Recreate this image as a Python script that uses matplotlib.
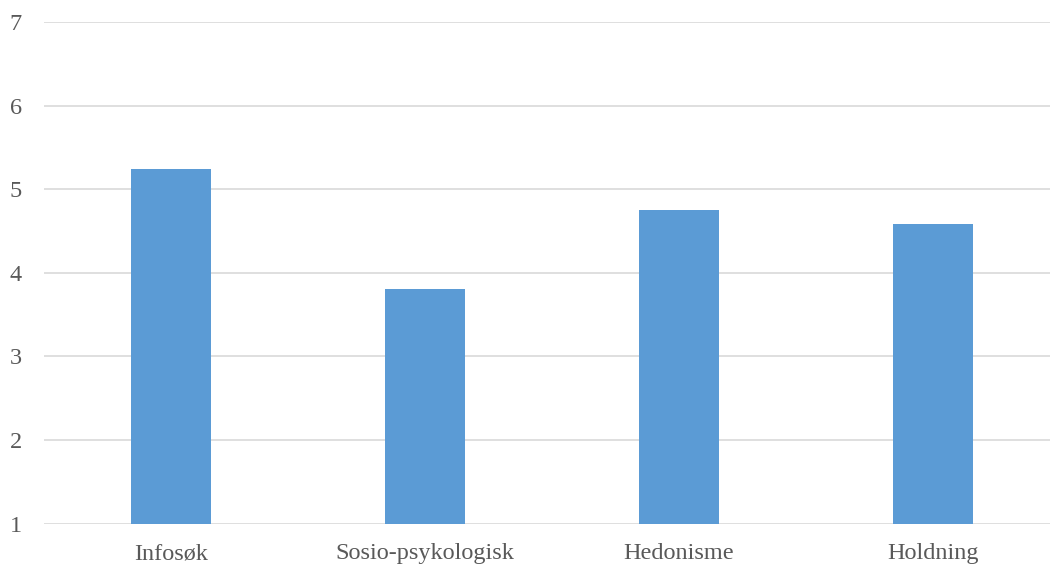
import matplotlib.pyplot as plt

categories = ["Infosøk", "Sosio-psykologisk", "Hedonisme", "Holdning"]
scores = [5.24, 3.81, 4.75, 4.59]
y_ticks = [1, 2, 3, 4, 5, 6, 7]

plt.rcParams["font.family"] = ["Liberation Serif", "DejaVu Serif"]

fig = plt.figure(figsize=(10.5, 5.66), dpi=100)
ax = fig.add_axes([0.0419, 0.0747, 0.9676, 0.8864])

x = range(len(categories))
ax.bar(x, [s - 1 for s in scores], bottom=1, width=0.315, color="#5B9BD5", zorder=3)

ax.set_xlim(-0.5, len(categories) - 0.5)
ax.set_ylim(1, 7)
ax.set_yticks(y_ticks)
ax.set_xticks(list(x))
ax.set_xticklabels(categories)
ax.grid(axis="y", color="#D9D9D9", linewidth=1.2, zorder=0)
ax.set_axisbelow(True)

for side in ["top", "right", "left", "bottom"]:
    ax.spines[side].set_visible(False)

ax.tick_params(axis="y", length=0, pad=16, labelsize=17.5, labelcolor="#595959")
ax.tick_params(axis="x", length=0, pad=14, labelsize=17.5, labelcolor="#595959")

fig.savefig("out.png", dpi=100)
